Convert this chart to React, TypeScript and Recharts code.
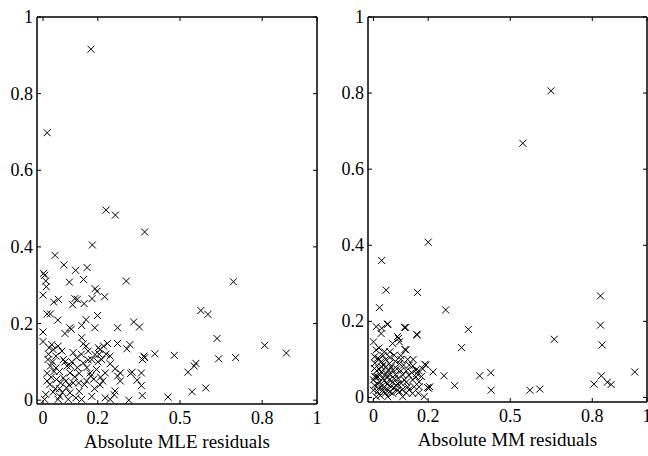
import { ScatterChart, Scatter, XAxis, YAxis } from "recharts"

// [absolute residual, value] pairs
const mlePoints: [number, number][] = [
  [0.175, 0.916], [0.015, 0.698], [0.23, 0.496], [0.264, 0.483],
  [0.371, 0.439], [0.18, 0.405], [0.044, 0.378], [0.076, 0.353], [0.119, 0.339], [0.161, 0.346],
  [0.002, 0.331], [0.006, 0.326], [0.01, 0.311], [0.096, 0.308], [0.148, 0.315], [0.304, 0.311],
  [0.695, 0.309], [0.012, 0.296], [0.19, 0.291], [0.197, 0.284], [0.0, 0.274], [0.056, 0.263],
  [0.039, 0.256], [0.116, 0.265], [0.125, 0.263], [0.108, 0.249], [0.15, 0.252], [0.179, 0.265],
  [0.225, 0.27], [0.576, 0.234], [0.602, 0.224], [0.015, 0.225], [0.027, 0.225], [0.054, 0.209],
  [0.199, 0.221], [0.141, 0.195], [0.157, 0.21], [0.189, 0.189], [0.098, 0.189], [0.103, 0.185],
  [0.0, 0.178], [0.08, 0.174], [0.272, 0.189], [0.331, 0.204], [0.352, 0.191], [0.635, 0.161],
  [0.0, 0.153], [0.032, 0.145], [0.147, 0.147], [0.157, 0.141], [0.202, 0.137], [0.235, 0.148],
  [0.272, 0.148], [0.317, 0.145], [0.306, 0.134], [0.809, 0.143], [0.888, 0.123], [0.408, 0.121],
  [0.479, 0.117], [0.368, 0.115], [0.371, 0.111], [0.363, 0.106], [0.641, 0.108], [0.703, 0.111],
  [0.558, 0.096], [0.552, 0.089], [0.529, 0.073], [0.544, 0.022], [0.594, 0.032], [0.456, 0.008],
  [0.313, 0.0], [0.362, 0.012], [0.359, 0.038], [0.343, 0.052], [0.359, 0.071], [0.325, 0.073],
  [0.32, 0.07], [0.282, 0.05], [0.272, 0.063], [0.263, 0.082], [0.245, 0.115], [0.227, 0.071],
  [0.208, 0.04], [0.227, 0.006], [0.245, 0.002], [0.26, 0.014], [0.172, 0.071], [0.174, 0.063],
  [0.159, 0.05], [0.151, 0.041], [0.178, 0.01], [0.141, 0.002], [0.12, 0.006], [0.11, 0.045],
  [0.116, 0.061], [0.132, 0.07], [0.088, 0.089], [0.074, 0.106], [0.069, 0.128], [0.047, 0.115],
  [0.027, 0.089], [0.015, 0.07], [0.025, 0.041], [0.049, 0.054], [0.064, 0.045], [0.074, 0.058],
  [0.086, 0.032], [0.01, 0.015], [0.037, 0.021], [0.061, 0.01], [0.098, 0.019], [0.006, 0.002],
  [0.055, 0.002], [0.092, 0.002], [0.208, 0.132], [0.178, 0.106], [0.19, 0.119], [0.214, 0.106],
  [0.221, 0.141], [0.165, 0.128], [0.147, 0.097], [0.098, 0.071], [0.037, 0.132], [0.055, 0.141],
  [0.018, 0.106], [0.245, 0.095], [0.282, 0.071], [0.263, 0.024], [0.123, 0.111], [0.141, 0.163],
  [0.11, 0.124], [0.022, 0.137], [0.047, 0.084], [0.083, 0.05], [0.132, 0.023], [0.218, 0.05],
  [0.188, 0.03], [0.03, 0.06], [0.1, 0.09], [0.16, 0.085], [0.2, 0.1],
  [0.02, 0.12], [0.035, 0.1], [0.045, 0.03], [0.06, 0.075], [0.07, 0.02], [0.08, 0.1],
  [0.095, 0.04], [0.105, 0.1], [0.125, 0.085], [0.13, 0.045], [0.14, 0.12], [0.165, 0.105],
  [0.185, 0.055], [0.195, 0.08], [0.205, 0.12], [0.21, 0.06], [0.23, 0.12], [0.015, 0.05],
  [0.04, 0.075], [0.06, 0.03],
]

const mmPoints: [number, number][] = [
  [0.649, 0.806], [0.546, 0.668], [0.2, 0.408], [0.03, 0.36], [0.046, 0.282], [0.161, 0.276],
  [0.022, 0.236], [0.264, 0.23], [0.83, 0.267], [0.83, 0.19], [0.836, 0.138], [0.661, 0.153],
  [0.347, 0.179], [0.322, 0.131], [0.118, 0.184], [0.16, 0.164], [0.051, 0.192], [0.03, 0.182],
  [0.091, 0.155], [0.115, 0.126], [0.188, 0.087], [0.218, 0.067], [0.258, 0.057], [0.297, 0.031],
  [0.388, 0.057], [0.429, 0.065], [0.43, 0.019], [0.572, 0.019], [0.608, 0.022], [0.806, 0.035],
  [0.833, 0.057], [0.855, 0.04], [0.869, 0.034], [0.955, 0.067], [0.206, 0.028], [0.202, 0.024],
  [0.158, 0.063], [0.144, 0.083], [0.164, 0.011],
  [0.052, 0.193], [0.113, 0.184], [0.158, 0.166], [0.01, 0.186], [0.028, 0.168], [0.088, 0.16],
  [0.0, 0.146], [0.07, 0.142], [0.095, 0.146], [0.119, 0.125], [0.01, 0.125], [0.04, 0.12],
  [0.076, 0.111], [0.004, 0.107], [0.028, 0.094], [0.058, 0.089], [0.095, 0.089], [0.131, 0.085],
  [0.155, 0.072], [0.192, 0.085], [0.198, 0.026], [0.004, 0.076], [0.016, 0.054], [0.046, 0.063],
  [0.076, 0.05], [0.107, 0.059], [0.143, 0.046], [0.167, 0.028], [0.004, 0.032], [0.034, 0.019],
  [0.064, 0.028], [0.095, 0.015], [0.125, 0.028], [0.143, 0.011], [0.01, 0.002], [0.052, 0.002],
  [0.107, 0.002], [0.185, 0.002], [0.022, 0.041], [0.04, 0.028], [0.058, 0.046], [0.082, 0.032],
  [0.028, 0.067], [0.016, 0.103], [0.046, 0.081], [0.07, 0.072], [0.088, 0.019], [0.113, 0.046],
  [0.01, 0.054], [0.034, 0.05], [0.0, 0.019], [0.0, 0.046], [0.019, 0.024], [0.043, 0.011],
  [0.07, 0.011], [0.101, 0.037], [0.129, 0.059], [0.155, 0.054], [0.167, 0.041], [0.149, 0.028],
  [0.02, 0.13], [0.06, 0.12], [0.03, 0.08], [0.015, 0.015], [0.06, 0.06], [0.08, 0.095],
  [0.05, 0.035], [0.025, 0.005], [0.12, 0.07], [0.1, 0.11],
  [0.005, 0.09], [0.012, 0.07], [0.02, 0.1], [0.025, 0.06], [0.035, 0.085], [0.04, 0.045],
  [0.045, 0.1], [0.055, 0.07], [0.065, 0.08], [0.07, 0.04], [0.08, 0.06], [0.09, 0.05],
  [0.1, 0.07], [0.11, 0.085], [0.12, 0.04], [0.13, 0.02], [0.14, 0.065], [0.015, 0.035],
  [0.03, 0.03], [0.045, 0.02], [0.06, 0.015], [0.075, 0.025], [0.09, 0.035], [0.105, 0.02],
  [0.12, 0.012], [0.005, 0.055], [0.02, 0.075], [0.05, 0.055], [0.085, 0.075], [0.1, 0.1],
  [0.035, 0.11], [0.06, 0.105], [0.125, 0.1], [0.145, 0.1], [0.165, 0.07], [0.175, 0.055],
  [0.18, 0.075],
]

const xTicks = [0, 0.2, 0.5, 0.8, 1]
const yTicks = [0, 0.2, 0.4, 0.6, 0.8, 1]

const FONT = "'Liberation Serif', serif"
const FONT_SIZE = 18

const toRows = (pts: [number, number][]) => pts.map(([x, y]) => ({ x, y }))

const XMark = (props: any) => {
  const { cx, cy } = props
  const s = 3.5
  return (
    <path
      d={`M${cx - s},${cy - s}L${cx + s},${cy + s}M${cx - s},${cy + s}L${cx + s},${cy - s}`}
      stroke="#000"
      strokeWidth={1}
      fill="none"
    />
  )
}

const NoMark = () => <g />

// ticks point into the plot box, labels sit outside
const BottomTick = ({ x, y, payload }: any) => (
  <g>
    <line x1={x} y1={y} x2={x} y2={y - 4} stroke="#000" />
    <text x={x} y={y + 20} textAnchor="middle" fontFamily={FONT} fontSize={FONT_SIZE} fill="#000">
      {payload.value}
    </text>
  </g>
)
const TopTick = ({ x, y }: any) => <line x1={x} y1={y} x2={x} y2={y + 4} stroke="#000" />
const LeftTick = ({ x, y, payload }: any) => (
  <g>
    <line x1={x} y1={y} x2={x + 4} y2={y} stroke="#000" />
    <text x={x - 4} y={y + 6} textAnchor="end" fontFamily={FONT} fontSize={FONT_SIZE} fill="#000">
      {payload.value}
    </text>
  </g>
)
const RightTick = ({ x, y }: any) => <line x1={x} y1={y} x2={x - 4} y2={y} stroke="#000" />

interface PanelProps {
  points: [number, number][]
  label: string
  width: number
  margin: { top: number; right: number; bottom: number; left: number }
  xDomain: [number, number]
  yDomain: [number, number]
}

function Panel({ points, label, width, margin, xDomain, yDomain }: PanelProps) {
  const axisLine = { stroke: "#000", strokeWidth: 1.5 }
  const rows = toRows(points)
  return (
    <ScatterChart width={width} height={456} margin={margin}>
      <XAxis
        xAxisId="b"
        type="number"
        dataKey="x"
        domain={xDomain}
        ticks={xTicks}
        interval={0}
        allowDataOverflow
        height={30}
        tickSize={0}
        tickMargin={0}
        tickLine={false}
        axisLine={axisLine}
        tick={<BottomTick />}
        label={{ value: label, position: "bottom", offset: 0, dy: 1, fontFamily: FONT, fontSize: 19, fill: "#000" }}
      />
      <XAxis
        xAxisId="t"
        orientation="top"
        type="number"
        dataKey="x"
        domain={xDomain}
        ticks={xTicks}
        interval={0}
        allowDataOverflow
        height={1}
        tickSize={0}
        tickMargin={0}
        tickLine={false}
        axisLine={axisLine}
        tick={<TopTick />}
      />
      <YAxis
        yAxisId="l"
        type="number"
        dataKey="y"
        domain={yDomain}
        ticks={yTicks}
        interval={0}
        allowDataOverflow
        width={30}
        tickSize={0}
        tickMargin={0}
        tickLine={false}
        axisLine={axisLine}
        tick={<LeftTick />}
      />
      <YAxis
        yAxisId="r"
        orientation="right"
        type="number"
        dataKey="y"
        domain={yDomain}
        ticks={yTicks}
        interval={0}
        allowDataOverflow
        width={1}
        tickSize={0}
        tickMargin={0}
        tickLine={false}
        axisLine={axisLine}
        tick={<RightTick />}
      />
      <Scatter xAxisId="t" yAxisId="r" data={rows} shape={<NoMark />} isAnimationActive={false} />
      <Scatter xAxisId="b" yAxisId="l" data={rows} shape={<XMark />} isAnimationActive={false} />
    </ScatterChart>
  )
}

export default function App() {
  return (
    <div style={{ position: "absolute", left: 0, top: 0, width: 648, height: 456, background: "#fff" }}>
      <div style={{ position: "absolute", left: 0, top: 0 }}>
        <Panel
          points={mlePoints}
          label="Absolute MLE residuals"
          width={330}
          margin={{ top: 16, right: 12, bottom: 22, left: 7 }}
          xDomain={[-0.022, 1]}
          yDomain={[-0.01, 1]}
        />
      </div>
      <div style={{ position: "absolute", left: 330, top: 0 }}>
        <Panel
          points={mmPoints}
          label="Absolute MM residuals"
          width={318}
          margin={{ top: 16, right: 0, bottom: 24, left: 8 }}
          xDomain={[-0.02, 1]}
          yDomain={[-0.012, 1]}
        />
      </div>
    </div>
  )
}
